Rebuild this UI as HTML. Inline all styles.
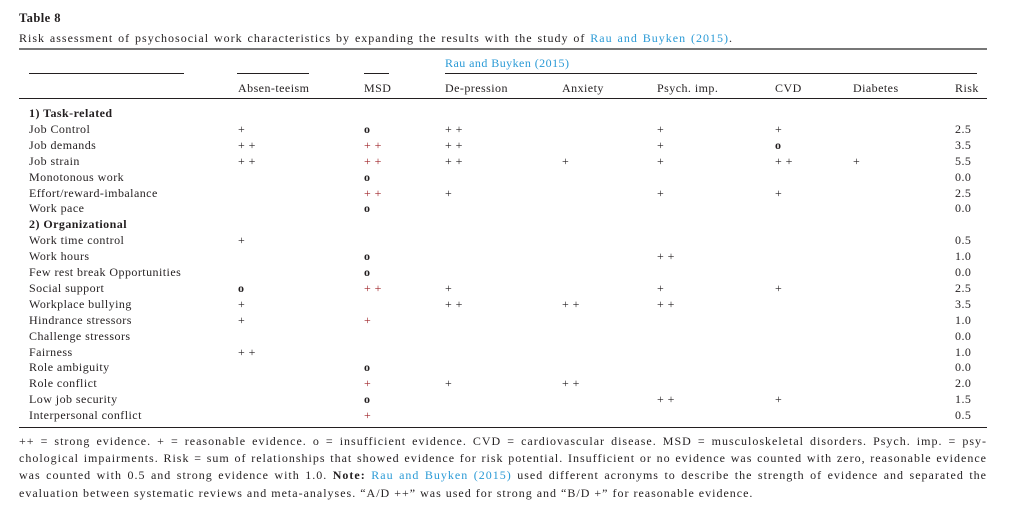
<!DOCTYPE html>
<html><head><meta charset="utf-8"><style>
body{margin:0;width:1024px;height:510px;background:#fff;font-family:"Liberation Serif",serif;color:#231f20;position:relative;overflow:hidden}
.t{position:absolute;font-size:12px;letter-spacing:0.45px;white-space:nowrap;line-height:1}
.b{font-weight:bold}
.l{position:absolute;background:#231f20;height:1px}
.a{color:#2a9ad6}
.r{color:#a0262b}
.fl{position:absolute;left:19px;width:968px;font-size:12px;letter-spacing:1px;white-space:nowrap;text-align:justify;text-align-last:justify;line-height:1}
</style></head><body>
<div class="t b" style="left:19px;top:12px;font-size:12.5px">Table 8</div>
<div class="fl" style="left:19px;top:32px;width:714px">Risk assessment of psychosocial work characteristics by expanding the results with the study of <span class="a">Rau and Buyken (2015)</span>.</div>
<div class="l" style="left:19px;top:48px;width:968px;height:2px;background:#777"></div>
<div class="t a" style="left:445px;top:57px">Rau and Buyken (2015)</div>
<div class="l" style="left:29px;top:73px;width:155px"></div>
<div class="l" style="left:237px;top:73px;width:72px"></div>
<div class="l" style="left:364px;top:73px;width:25px"></div>
<div class="l" style="left:445px;top:73px;width:532px"></div>
<div class="t" style="left:238px;top:82px">Absen-teeism</div>
<div class="t" style="left:364px;top:82px">MSD</div>
<div class="t" style="left:445px;top:82px">De-pression</div>
<div class="t" style="left:562px;top:82px">Anxiety</div>
<div class="t" style="left:657px;top:82px">Psych. imp.</div>
<div class="t" style="left:775px;top:82px">CVD</div>
<div class="t" style="left:853px;top:82px">Diabetes</div>
<div class="t" style="left:955px;top:82px">Risk</div>
<div class="l" style="left:19px;top:98px;width:968px"></div>
<div id="rows"></div>
<div class="l" style="left:19px;top:427px;width:968px"></div>
<div class="fl" style="top:435px">++ = strong evidence. + = reasonable evidence. o = insufficient evidence. CVD = cardiovascular disease. MSD = musculoskeletal disorders. Psych. imp. = psy-</div>
<div class="fl" style="top:452px">chological impairments. Risk = sum of relationships that showed evidence for risk potential. Insufficient or no evidence was counted with zero, reasonable evidence</div>
<div class="fl" style="top:469px">was counted with 0.5 and strong evidence with 1.0. <b>Note:</b> <span class="a">Rau and Buyken (2015)</span> used different acronyms to describe the strength of evidence and separated the</div>
<div class="fl" style="top:487px;text-align:left;text-align-last:left">evaluation between systematic reviews and meta-analyses. “A/D ++” was used for strong and “B/D +” for reasonable evidence.</div>
<script>
var rows=[
["1) Task-related",1],
["Job Control","+","o","+ +","","+","+","","2.5"],
["Job demands","+ +","+ +","+ +","","+","o","","3.5"],
["Job strain","+ +","+ +","+ +","+","+","+ +","+","5.5"],
["Monotonous work","","o","","","","","","0.0"],
["Effort/reward-imbalance","","+ +","+","","+","+","","2.5"],
["Work pace","","o","","","","","","0.0"],
["2) Organizational",1],
["Work time control","+","","","","","","","0.5"],
["Work hours","","o","","","+ +","","","1.0"],
["Few rest break Opportunities","","o","","","","","","0.0"],
["Social support","o","+ +","+","","+","+","","2.5"],
["Workplace bullying","+","","+ +","+ +","+ +","","","3.5"],
["Hindrance stressors","+","+","","","","","","1.0"],
["Challenge stressors","","","","","","","","0.0"],
["Fairness","+ +","","","","","","","1.0"],
["Role ambiguity","","o","","","","","","0.0"],
["Role conflict","","+","+","+ +","","","","2.0"],
["Low job security","","o","","","+ +","+","","1.5"],
["Interpersonal conflict","","+","","","","","","0.5"]];
var xs=[29,238,364,445,562,657,775,853,955],h="";
rows.forEach(function(r,i){var y=107+i*15.9;
if(r[1]===1){h+='<div class="t b" style="left:29px;top:'+y+'px">'+r[0]+'</div>';return;}
for(var j=0;j<9;j++){if(!r[j])continue;var c="t"+(j==2&&r[j]!="o"?" r":"")+(r[j]=="o"?" b":"");
h+='<div class="'+c+'" style="left:'+xs[j]+'px;top:'+y+'px">'+r[j]+'</div>';}});
document.getElementById("rows").innerHTML=h;
</script>
</body></html>
